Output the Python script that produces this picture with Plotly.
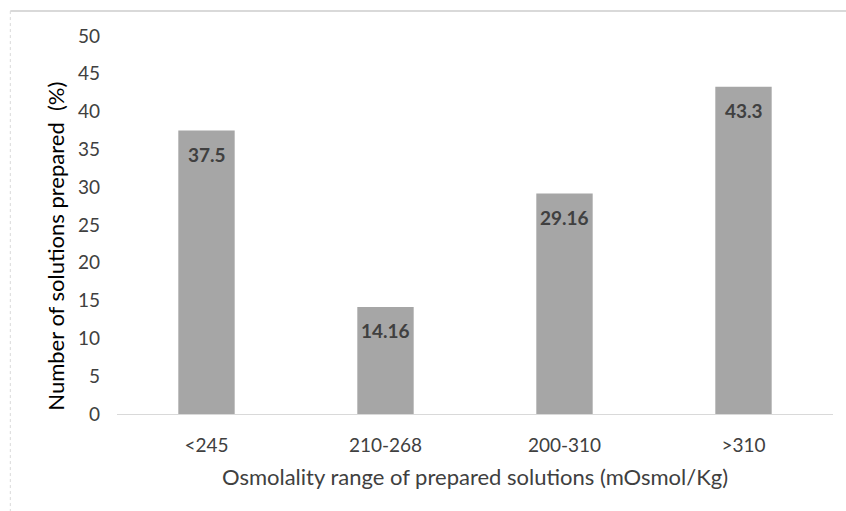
import plotly.graph_objects as go

# Osmolality ranges and share of solutions prepared in each (%)
categories = ["<245", "210-268", "200-310", ">310"]
values = [37.5, 14.16, 29.16, 43.3]
value_labels = ["37.5", "14.16", "29.16", "43.3"]
y_ticks = [0, 5, 10, 15, 20, 25, 30, 35, 40, 45, 50]

FONT = "Lato, 'Open Sans', sans-serif"
TEXT = "#404040"

fig = go.Figure(
    go.Bar(
        x=categories,
        y=values,
        marker=dict(color="#a6a6a6", line=dict(width=0)),
        width=0.315,
        hoverinfo="x+y",
    )
)

# value labels placed just inside the top of each bar
for cat, val, lab in zip(categories, values, value_labels):
    fig.add_annotation(
        x=cat, y=val, text=f"<b>{lab}</b>", showarrow=False,
        yanchor="middle", yshift=-24,
        font=dict(family=FONT, size=19, color=TEXT),
    )

# vertical axis title, set slightly below the middle of the value axis
fig.add_annotation(
    xref="paper", yref="paper", x=-0.0864, y=0.443,
    text="Number of solutions prepared  (%)", textangle=-90,
    showarrow=False, xanchor="center", yanchor="middle",
    font=dict(family=FONT, size=22, color="#000000"),
)

# chart frame: light rules along the top and left edges
fig.add_shape(type="line", xref="paper", yref="paper",
              x0=-0.149, x1=1.02, y0=1.066, y1=1.066,
              line=dict(color="#d9d9d9", width=2))
fig.add_shape(type="line", xref="paper", yref="paper",
              x0=-0.149, x1=-0.149, y0=1.066, y1=-0.26,
              line=dict(color="#d9d9d9", width=1, dash="dot"))

fig.update_layout(
    width=846, height=511,
    margin=dict(l=117, r=13, t=36, b=97),
    paper_bgcolor="white", plot_bgcolor="white",
    showlegend=False,
    font=dict(family=FONT, size=19, color=TEXT),
    bargap=0.685,
    xaxis=dict(
        showline=True, linecolor="#d9d9d9", linewidth=1,
        showgrid=False, ticks="", ticklen=0,
        ticklabelstandoff=14,
        tickfont=dict(size=19, color=TEXT),
        title=dict(text="Osmolality range of prepared solutions (mOsmol/Kg)",
                   font=dict(size=22, color=TEXT), standoff=14),
    ),
    yaxis=dict(
        range=[0, 50], tickvals=y_ticks,
        showgrid=False, zeroline=False, showline=False,
        ticks="", ticklabelstandoff=16,
        tickfont=dict(size=19, color=TEXT),
    ),
)

fig.write_html("out.html")
